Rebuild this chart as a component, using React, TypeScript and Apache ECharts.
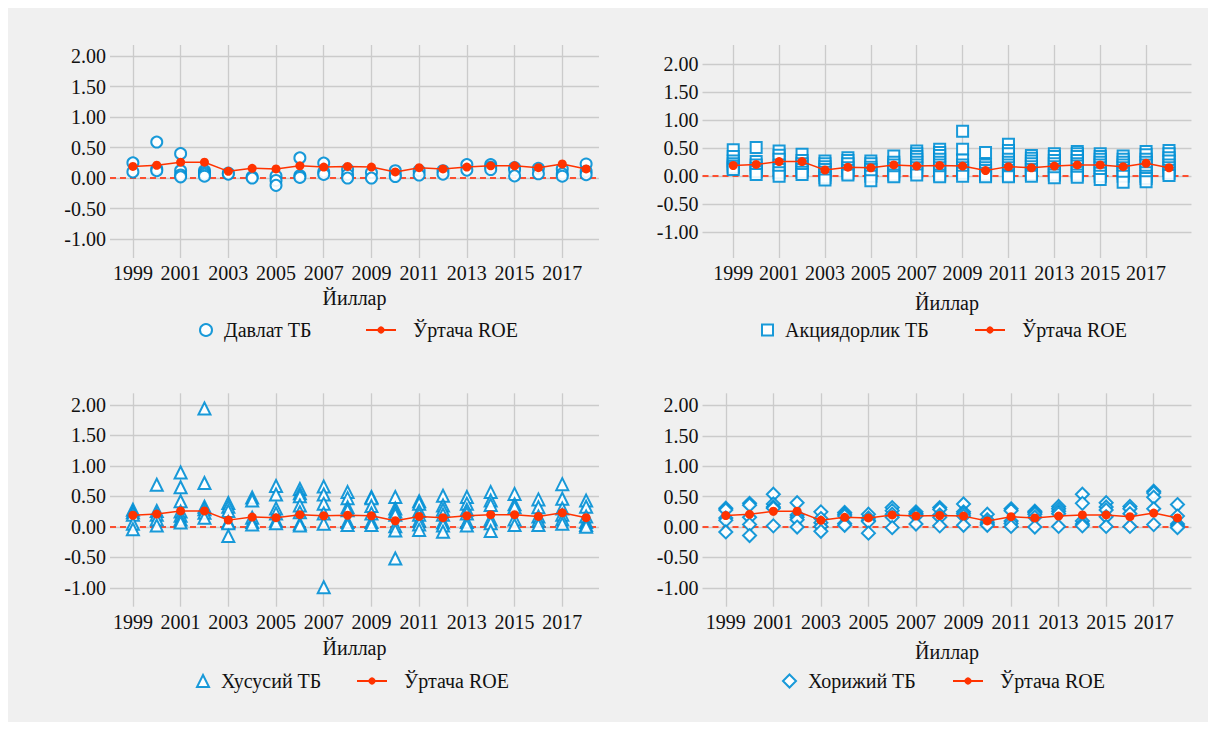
import React, { useEffect, useRef } from "react";
import * as echarts from "echarts";

const years = [1999, 2000, 2001, 2002, 2003, 2004, 2005, 2006, 2007, 2008, 2009, 2010, 2011, 2012, 2013, 2014, 2015, 2016, 2017, 2018];
const avgROE = [0.19, 0.21, 0.26, 0.26, 0.11, 0.16, 0.15, 0.2, 0.18, 0.19, 0.18, 0.1, 0.17, 0.15, 0.18, 0.2, 0.2, 0.17, 0.23, 0.15];

const stateBanks: number[][] = [
  [0.25, 0.1],
  [0.59, 0.15, 0.12],
  [0.4, 0.12, 0.05, 0.02],
  [0.12, 0.09, 0.06, 0.03],
  [0.08, 0.065],
  [0.02, 0.0],
  [0.03, -0.04, -0.12],
  [0.33, 0.04, 0.01],
  [0.245, 0.1, 0.06],
  [0.14, 0.055, 0.0],
  [0.09, 0.0],
  [0.12, 0.05, 0.025],
  [0.12, 0.05],
  [0.12, 0.065],
  [0.22, 0.13],
  [0.22, 0.18, 0.14],
  [0.17, 0.13, 0.035],
  [0.16, 0.07],
  [0.15, 0.07, 0.03],
  [0.23, 0.11, 0.055],
];

const jointStockBanks: number[][] = [
  [0.47, 0.35, 0.27, 0.22, 0.18, 0.15, 0.12],
  [0.51, 0.26, 0.2, 0.14, 0.08, 0.03],
  [0.45, 0.375, 0.3, 0.2, 0.12, 0.06, 0.0],
  [0.39, 0.28, 0.22, 0.17, 0.12, 0.07, 0.03],
  [0.27, 0.22, 0.17, 0.12, 0.07, 0.02, -0.03, -0.07],
  [0.33, 0.28, 0.22, 0.15, 0.1, 0.05, 0.02],
  [0.27, 0.22, 0.16, 0.12, 0.05, 0.0, -0.08],
  [0.36, 0.25, 0.2, 0.14, 0.08, 0.02, -0.01],
  [0.45, 0.4, 0.35, 0.3, 0.25, 0.2, 0.15, 0.08, 0.02],
  [0.48, 0.42, 0.37, 0.3, 0.25, 0.2, 0.15, 0.08, 0.02, -0.01],
  [0.8, 0.48, 0.29, 0.2, 0.15, 0.1, 0.05, 0.0],
  [0.42, 0.2, 0.15, 0.1, 0.05, 0.02, -0.01],
  [0.57, 0.46, 0.4, 0.3, 0.25, 0.2, 0.15, 0.1, 0.05, 0.01, -0.01],
  [0.37, 0.32, 0.27, 0.22, 0.17, 0.12, 0.07, 0.03, 0.0],
  [0.4, 0.35, 0.28, 0.22, 0.17, 0.12, 0.06, 0.02, -0.03],
  [0.44, 0.4, 0.35, 0.28, 0.22, 0.18, 0.12, 0.07, 0.02, -0.02],
  [0.4, 0.35, 0.3, 0.25, 0.2, 0.15, 0.1, 0.05, 0.0, -0.06],
  [0.36, 0.3, 0.25, 0.2, 0.15, 0.1, 0.05, 0.0, -0.11],
  [0.44, 0.38, 0.3, 0.25, 0.2, 0.12, 0.06, 0.0, -0.04, -0.1],
  [0.46, 0.4, 0.33, 0.27, 0.2, 0.15, 0.1, 0.05, 0.01],
];

const privateBanks: number[][] = [
  [0.28, 0.24, 0.2, 0.05, -0.04],
  [0.69, 0.26, 0.2, 0.12, 0.02],
  [0.89, 0.65, 0.42, 0.25, 0.18, 0.12, 0.07],
  [1.94, 0.72, 0.33, 0.29, 0.23, 0.15],
  [0.39, 0.33, 0.26, 0.08, 0.06, -0.15],
  [0.48, 0.43, 0.15, 0.08, 0.04],
  [0.67, 0.53, 0.3, 0.22, 0.1, 0.06],
  [0.62, 0.55, 0.5, 0.35, 0.24, 0.05, 0.02],
  [0.66, 0.53, 0.38, 0.22, 0.05, -0.99],
  [0.57, 0.47, 0.32, 0.27, 0.08, 0.03],
  [0.49, 0.47, 0.34, 0.22, 0.08, 0.03],
  [0.49, 0.3, 0.25, 0.2, 0.01, -0.06, -0.52],
  [0.42, 0.38, 0.26, 0.2, 0.1, 0.04, -0.05],
  [0.51, 0.35, 0.28, 0.2, 0.07, 0.02, -0.08],
  [0.49, 0.38, 0.28, 0.22, 0.08, 0.02],
  [0.57, 0.43, 0.36, 0.12, 0.06, -0.07],
  [0.54, 0.37, 0.32, 0.12, 0.03],
  [0.45, 0.32, 0.17, 0.1, 0.03],
  [0.7, 0.46, 0.3, 0.2, 0.12, 0.05],
  [0.43, 0.33, 0.17, 0.08, 0.03, 0.0],
];

const foreignBanks: number[][] = [
  [0.31, 0.28, 0.15, 0.11, -0.08],
  [0.39, 0.36, 0.16, 0.04, -0.14],
  [0.54, 0.38, 0.33, 0.31, 0.02],
  [0.4, 0.2, 0.16, 0.12, 0.0],
  [0.25, 0.14, 0.07, 0.01, -0.07],
  [0.24, 0.21, 0.18, 0.06, 0.03],
  [0.21, 0.15, 0.11, 0.09, -0.1],
  [0.32, 0.27, 0.21, 0.16, -0.01],
  [0.25, 0.22, 0.2, 0.18, 0.05],
  [0.32, 0.29, 0.2, 0.16, 0.02],
  [0.38, 0.25, 0.22, 0.18, 0.03],
  [0.21, 0.12, 0.08, 0.05, 0.03],
  [0.3, 0.27, 0.1, 0.06, 0.01],
  [0.26, 0.24, 0.21, 0.16, 0.0],
  [0.34, 0.3, 0.26, 0.22, 0.01],
  [0.54, 0.39, 0.1, 0.05, 0.02],
  [0.4, 0.33, 0.28, 0.17, 0.01],
  [0.34, 0.3, 0.22, 0.01],
  [0.59, 0.56, 0.49, 0.3, 0.04],
  [0.37, 0.18, 0.05, 0.02, -0.01],
];

const xTickLabels = [1999, 2001, 2003, 2005, 2007, 2009, 2011, 2013, 2015, 2017];
const yTickLabels = [-1, -0.5, 0, 0.5, 1, 1.5, 2];
const groupNames = ["Давлат ТБ", "Акциядорлик ТБ", "Хусусий ТБ", "Хорижий ТБ"];
const groupValues = [stateBanks, jointStockBanks, privateBanks, foreignBanks];
const avgName = "Ўртача ROE";
const xAxisTitle = "Йиллар";

const BLUE = "#008fd5";
const RED = "#ff3300";
const DASH = "#fc4f30";
const TEXT = "#111111";
const FONT = "Liberation Serif, serif";

const panels = [
  { left: 102, top: 37, width: 489, height: 213, xMin: 1998.04, xMax: 2018.54, yMin: -1.31, yMax: 2.18, symbol: "emptyCircle", size: 11, iconSize: 12, nameGap: 30, scatterLegendLeft: 191, lineLegendLeft: 357, legendTop: 312 },
  { left: 694.5, top: 37, width: 489, height: 213, xMin: 1997.66, xMax: 2018.98, yMin: -1.46, yMax: 2.34, symbol: "emptyRect", size: 11, iconSize: 11, nameGap: 35, scatterLegendLeft: 753, lineLegendLeft: 966, legendTop: 312 },
  { left: 102, top: 385.3, width: 489, height: 213.4, xMin: 1998.04, xMax: 2018.54, yMin: -1.31, yMax: 2.19, symbol: "emptyTriangle", size: 12, iconSize: 12, nameGap: 31, scatterLegendLeft: 188, lineLegendLeft: 348, legendTop: 663 },
  { left: 694.5, top: 385.3, width: 489, height: 213.4, xMin: 1998.02, xMax: 2018.59, yMin: -1.31, yMax: 2.2, symbol: "emptyDiamond", size: 13, iconSize: 13, nameGap: 35, scatterLegendLeft: 774, lineLegendLeft: 944, legendTop: 663 },
];

export default function App() {
  const ref = useRef<HTMLDivElement>(null);
  useEffect(() => {
    if (!ref.current) return;
    const chart = echarts.init(ref.current, undefined, { renderer: "svg" });

    const grids: any[] = [];
    const xAxes: any[] = [];
    const yAxes: any[] = [];
    const series: any[] = [];
    const legends: any[] = [];

    panels.forEach((p, i) => {
      grids.push({ left: p.left, top: p.top, width: p.width, height: p.height, containLabel: false });
      xAxes.push({
        type: "value",
        gridIndex: i,
        min: p.xMin,
        max: p.xMax,
        name: xAxisTitle,
        nameLocation: "middle",
        nameGap: p.nameGap,
        nameTextStyle: { fontSize: 20, color: TEXT, fontFamily: FONT },
        axisLine: { show: false },
        axisTick: { show: false, customValues: xTickLabels },
        axisLabel: { customValues: xTickLabels, fontSize: 20, color: TEXT, fontFamily: FONT, margin: 5, formatter: (v: number) => String(Math.round(v)) },
        splitLine: { show: true, lineStyle: { color: "#cbcbcb", width: 1.3 } },
      });
      yAxes.push({
        type: "value",
        gridIndex: i,
        min: p.yMin,
        max: p.yMax,
        axisLine: { show: false },
        axisTick: { show: false, customValues: yTickLabels },
        axisLabel: { customValues: yTickLabels, fontSize: 20, color: TEXT, fontFamily: FONT, margin: 4, formatter: (v: number) => v.toFixed(2) },
        splitLine: { show: true, lineStyle: { color: "#cbcbcb", width: 1.3 } },
      });
      const pts: number[][] = [];
      groupValues[i].forEach((vals, k) => vals.forEach((v) => pts.push([years[k], v])));
      series.push({
        type: "scatter",
        name: groupNames[i],
        xAxisIndex: i,
        yAxisIndex: i,
        symbol: p.symbol,
        symbolSize: p.size,
        itemStyle: { color: BLUE, borderColor: BLUE, borderWidth: 1.4, opacity: 0.9 },
        data: pts,
        z: 3,
      });
      series.push({
        type: "line",
        name: avgName,
        xAxisIndex: i,
        yAxisIndex: i,
        symbol: "circle",
        symbolSize: 9,
        showSymbol: true,
        lineStyle: { color: RED, width: 1.5 },
        itemStyle: { color: RED },
        data: years.map((y, k) => [y, avgROE[k]]),
        z: 4,
        markLine: {
          silent: true,
          symbol: ["none", "none"],
          label: { show: false },
          lineStyle: { color: DASH, type: [6, 4], width: 2 },
          data: [{ yAxis: 0 }],
          z: 2,
        },
      });
      legends.push({
        left: p.scatterLegendLeft,
        top: p.legendTop,
        padding: 0,
        itemWidth: p.iconSize,
        itemHeight: p.iconSize,
        selectedMode: false,
        textStyle: { fontSize: 20, color: TEXT, fontFamily: FONT, padding: [0, 0, 0, 7] },
        data: [{ name: groupNames[i] }],
      });
      legends.push({
        left: p.lineLegendLeft,
        top: p.legendTop,
        padding: 0,
        itemWidth: 30,
        itemHeight: 9,
        selectedMode: false,
        textStyle: { fontSize: 20, color: TEXT, fontFamily: FONT, padding: [0, 0, 0, 12] },
        data: [{ name: avgName }],
      });
    });

    chart.setOption({
      animation: false,
      backgroundColor: "#f0f0f0",
      textStyle: { fontFamily: FONT },
      grid: grids,
      xAxis: xAxes,
      yAxis: yAxes,
      legend: legends,
      series,
    });
    return () => chart.dispose();
  }, []);
  return <div ref={ref} style={{ width: 1200, height: 714 }} />;
}
